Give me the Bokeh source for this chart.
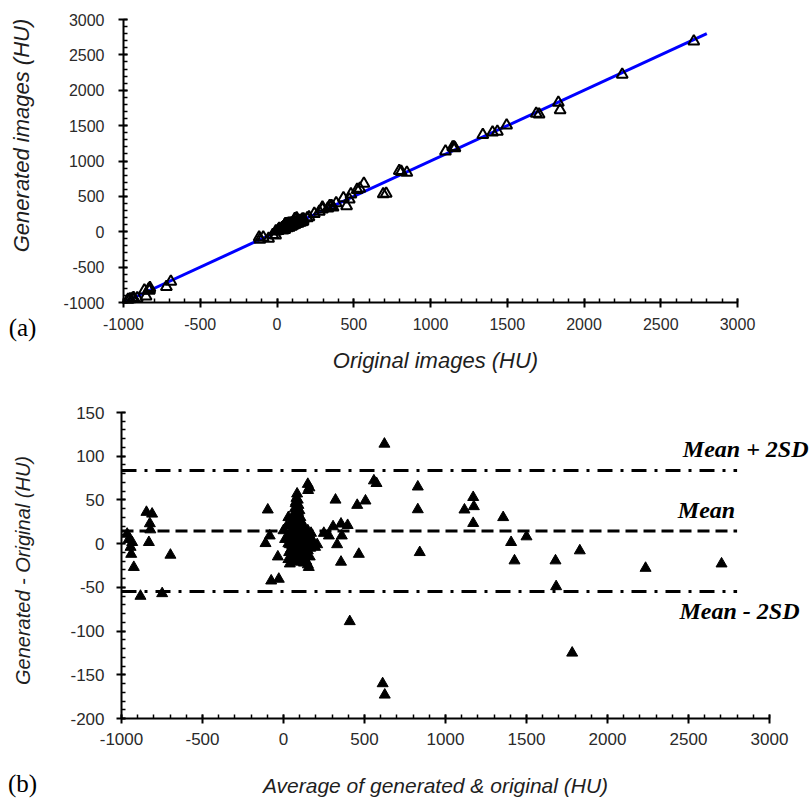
import numpy as np
from math import pi
from bokeh.plotting import figure
from bokeh.models import Range1d, Label, FixedTicker, LinearAxis
from bokeh.layouts import column
from bokeh.embed import file_html
from bokeh.resources import INLINE

# ---- data (average, difference) ----
avg_left = [-965, -955, -944, -934, -940, -924, -883, -846, -811, -825, -822, -831, -749, -698]
diff_left = [11, 5, -4, 1.5, -12, -27, -60, 36, 34, 23, 16, 1.5, -57, -13]

avg_near0 = [-97, -85, -111, -76, -29, -35]
diff_near0 = [38.7, 9, 0.3, -42.5, -40.5, -15]

avg_cluster = [84, 80, 88, 75, 92, 70, 84, 98, 66, 80, 94, 104, 60, 74, 88, 100, 112, 55, 68, 82,
               96, 110, 120, 50, 62, 76, 90, 104, 118, 130, 45, 58, 72, 86, 100, 114, 128, 140, 40, 54,
               68, 82, 96, 110, 124, 150, 35, 60, 90, 120, 145, 162, 30, 39, 70, 84, 140, 156, 150, 25,
               20, 30, 110, 175, 165, 170, 195, 208, 0, 10,
               78, 90, 72, 106, 64, 124, 138, 48, 132, 156, 100, 126, 60, 44, 150, 100, 86, 116, 74, 30]
diff_cluster = [57, 52, 50, 46, 44, 40, 40, 38, 34, 33, 32, 30, 28, 27, 26, 24, 22, 21, 20, 19,
                18, 17, 15, 14, 13, 12, 11, 10, 9, 8, 7, 6, 5, 4, 3, 2, 1, 0, -1, -2,
                -3, -4, -5, -6, -7, -8, -10, -12, -11, -13, -14, -15, -18, -23, -20, -21, -20, -27, -24, 8,
                20, 30, -18, 5, -5, 12, -4, -1, 15, 5,
                48, 36, 30, 26, 16, 20, 12, -6, -4, 2, -16, -22, -16, 22, 15, 12, 30, -2, -10, 0]

avg_mid = [150, 152, 160, 249, 280, 321, 306, 355, 396, 360, 331, 355, 409, 455, 465, 506, 558, 574,
           623, 829, 829, 841, 612, 625]
diff_mid = [68, 61, 64, 12, 9, 50, 19.5, 22.6, 21, 9, -1, -21, -89, 44, -12, 49, 72, 69,
            114, 65, 39, -10, -160, -173]

avg_right = [1171, 1175, 1117, 1171, 1356, 1405, 1500, 1426, 1679, 1829, 1683, 1782, 2235, 2704]
diff_right = [53, 42.5, 38.7, 23.3, 30, 1.5, 8, -19.5, -19.5, -8, -49, -125, -28, -23]

mean_diff = 14.5
sd_diff = 34.6
line_x = [-1000, 2800]

x_ticks = list(range(-1000, 3001, 500))
y_ticks_a = list(range(-1000, 3001, 500))
y_ticks_b = list(range(-200, 151, 50))

avg = np.array(avg_left + avg_near0 + avg_cluster + avg_mid + avg_right, dtype=float)
diff = np.array(diff_left + diff_near0 + diff_cluster + diff_mid + diff_right, dtype=float)
original = avg - diff / 2.0
generated = avg + diff / 2.0

TICK_FONT = "Liberation Sans"
W = 811


class Panel:
    """Maps page pixels of a panel to data coordinates (frame fills the whole canvas)."""

    def __init__(self, xlo, xhi, ylo, yhi, left, right, top, bottom, height):
        self.xlo, self.yhi = xlo, yhi
        self.left, self.top = left, top
        self.ux = (xhi - xlo) / (right - left)
        self.uy = (yhi - ylo) / (bottom - top)
        self.x_range = Range1d(xlo - left * self.ux, xhi + (W - right) * self.ux)
        self.y_range = Range1d(ylo - (height - bottom) * self.uy, yhi + top * self.uy)

    def x(self, px):
        return self.xlo + (px - self.left) * self.ux

    def y(self, py):
        return self.yhi - (py - self.top) * self.uy


def add_axes(p, xlo, xhi, ylo, yhi, xt, xminor, yt, yminor, font_size, xstand, ystand):
    xa = LinearAxis(fixed_location=ylo, bounds=(xlo, xhi))
    ya = LinearAxis(fixed_location=xlo, bounds=(ylo, yhi))
    xa.ticker = FixedTicker(ticks=xt, minor_ticks=xminor)
    ya.ticker = FixedTicker(ticks=yt, minor_ticks=yminor)
    xa.major_label_overrides = {t: str(t) for t in xt}
    ya.major_label_overrides = {t: str(t) for t in yt}
    for ax in (xa, ya):
        ax.axis_line_width = 2
        ax.axis_line_color = "black"
        ax.major_tick_line_width = 2
        ax.major_tick_line_color = "black"
        ax.minor_tick_line_width = 1.5
        ax.minor_tick_line_color = "black"
        ax.major_tick_in = 4
        ax.major_tick_out = 5
        ax.minor_tick_in = 4
        ax.minor_tick_out = 0
        ax.major_label_text_font = TICK_FONT
        ax.major_label_text_font_size = font_size
        ax.major_label_text_color = "#2a2a2a"
    xa.major_label_standoff = xstand
    ya.major_label_standoff = ystand
    p.add_layout(xa, "below")
    p.add_layout(ya, "left")


def new_fig(panel, height):
    p = figure(width=W, height=height, output_backend="svg", toolbar_location=None,
               x_range=panel.x_range, y_range=panel.y_range,
               x_axis_location=None, y_axis_location=None,
               min_border=0, min_border_left=0, min_border_right=0,
               min_border_top=0, min_border_bottom=0)
    p.xgrid.visible = False
    p.ygrid.visible = False
    p.outline_line_color = None
    return p


# ---------------- panel (a) ----------------
H_A = 390
A = Panel(-1000, 3000, -1000, 3000, left=123, right=737, top=19, bottom=302, height=H_A)
p1 = new_fig(A, H_A)

p1.line(line_x, line_x, line_color="#0000ff", line_width=3)
p1.scatter(original, generated, marker="triangle", size=11, fill_color=None,
           line_color="black", line_width=2)
add_axes(p1, -1000, 3000, -1000, 3000, x_ticks, list(range(-1000, 3001, 100)),
         y_ticks_a, list(range(-1000, 3001, 100)), "16px", 10, 14)

p1.add_layout(Label(x=A.x(22), y=A.y(327), text="(a)", text_font="Liberation Serif",
                    text_font_size="25px", text_color="black",
                    text_align="center", text_baseline="middle"))
p1.add_layout(Label(x=A.x(435), y=A.y(360), text="Original images (HU)", text_font=TICK_FONT,
                    text_font_style="italic", text_font_size="22px", text_color="#1e1e1e",
                    text_align="center", text_baseline="middle"))
p1.add_layout(Label(x=A.x(21), y=A.y(135), text="Generated images (HU)", text_font=TICK_FONT,
                    text_font_style="italic", text_font_size="22px", text_color="#1e1e1e",
                    angle=pi / 2, text_align="center", text_baseline="middle"))

# ---------------- panel (b) ----------------
H_B = 804 - H_A
TOP_B = H_A  # page offset of panel (b)
B = Panel(-1000, 3000, -200, 150, left=121, right=769, top=412 - TOP_B, bottom=718 - TOP_B, height=H_B)
p2 = new_fig(B, H_B)

p2.line(line_x, [mean_diff + 2 * sd_diff] * 2, line_color="black", line_width=3, line_dash="15 8 3 8")
p2.line(line_x, [mean_diff] * 2, line_color="black", line_width=3, line_dash="12 6")
p2.line(line_x, [mean_diff - 2 * sd_diff] * 2, line_color="black", line_width=3, line_dash="15 8 3 8")

p2.scatter(avg, diff, marker="triangle", size=11, fill_color="black", line_color="black", line_width=1)
add_axes(p2, -1000, 3000, -200, 150, x_ticks, list(range(-1000, 3001, 100)),
         y_ticks_b, list(range(-200, 151, 10)), "17px", 9, 12)

for txt, px, py, align in [("Mean + 2SD", 808, 448, "right"),
                           ("Mean", 706, 509, "center"),
                           ("Mean - 2SD", 799, 610, "right")]:
    p2.add_layout(Label(x=B.x(px), y=B.y(py - TOP_B), text=txt, text_font="Liberation Serif",
                        text_font_style="bold italic", text_font_size="24px", text_color="black",
                        text_align=align, text_baseline="middle"))

p2.add_layout(Label(x=B.x(22), y=B.y(783 - TOP_B), text="(b)", text_font="Liberation Serif",
                    text_font_size="25px", text_color="black",
                    text_align="center", text_baseline="middle"))
p2.add_layout(Label(x=B.x(435), y=B.y(785 - TOP_B), text="Average of generated & original (HU)",
                    text_font=TICK_FONT, text_font_style="italic", text_font_size="21px",
                    text_color="#1e1e1e", text_align="center", text_baseline="middle"))
p2.add_layout(Label(x=B.x(22), y=B.y(570 - TOP_B), text="Generated - Original (HU)", text_font=TICK_FONT,
                    text_font_style="italic", text_font_size="20px", text_color="#1e1e1e",
                    angle=pi / 2, text_align="center", text_baseline="middle"))

layout = column(p1, p2, spacing=0)
open("out.html", "w").write(file_html(layout, INLINE))
